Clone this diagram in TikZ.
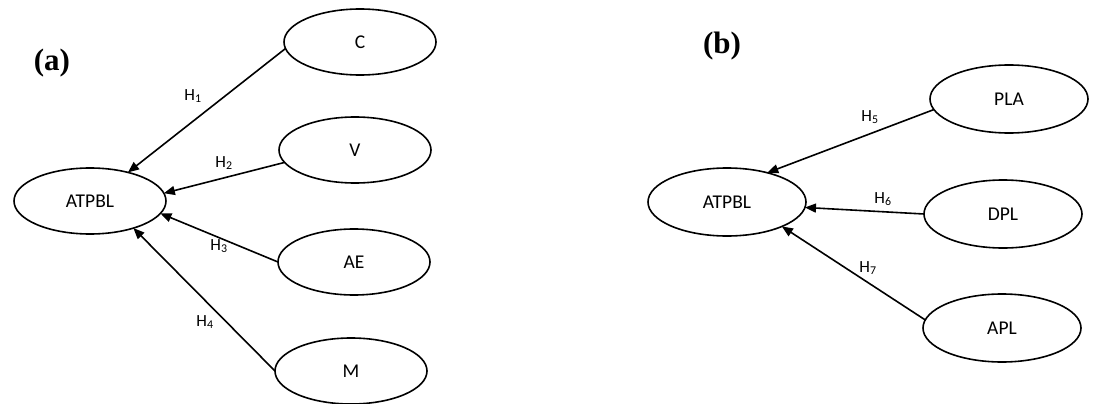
\documentclass[tikz,border=0pt]{standalone}
\usepackage{fontspec}
\setmainfont{Carlito}
\newfontfamily\panelfont{Liberation Serif}
\usetikzlibrary{shapes.geometric,arrows.meta}
\begin{document}
\begin{tikzpicture}[x=1pt,y=-1pt,
  var/.style={ellipse,draw,line width=1.6pt,inner sep=0pt,outer sep=0pt,
    minimum width=152pt,minimum height=66pt,font=\fontsize{19.5}{22}\selectfont},
  varb/.style={var,minimum width=158pt,minimum height=68pt},
  arr/.style={line width=1.6pt,-{Triangle[length=11pt,width=9pt]}},
  hlab/.style={font=\fontsize{17}{19}\selectfont,inner sep=0pt},
  panel/.style={font=\panelfont\bfseries\fontsize{31}{34}\selectfont,inner sep=0pt}]
\useasboundingbox (0,0) rectangle (1093,404);
% panel (a)
\node[panel] (la) at (52,63) {(a)};
\node[var] (A) at (90,201) {ATPBL};
\node[var] (C) at (360,42) {C};
\node[var] (V) at (355,150) {V};
\node[var] (AE) at (354,262) {AE};
\node[var] (M) at (351,371) {M};
\draw[arr] (C.185) -- (A.37);
\draw[arr] (V.190) -- (A.6);
\draw[arr] (AE.west) -- (A.-10);
\draw[arr] (M.west) -- (A.-32);
\node[hlab] (h1) at (193,96) {H\textsubscript{1}};
\node[hlab] (h2) at (224,163) {H\textsubscript{2}};
\node[hlab] (h3) at (219,246) {H\textsubscript{3}};
\node[hlab] (h4) at (205,322) {H\textsubscript{4}};
% panel (b)
\node[panel] (lb) at (722,46) {(b)};
\node[varb] (B) at (727,202) {ATPBL};
\node[varb] (PLA) at (1009,99) {PLA};
\node[varb] (DPL) at (1003,214) {DPL};
\node[varb] (APL) at (1002,328) {APL};
\draw[arr] (PLA.188) -- (B.36);
\draw[arr] (DPL.west) -- (B.-4);
\draw[arr] (APL.174) -- (B.-24);
\node[hlab] (h5) at (870,117) {H\textsubscript{5}};
\node[hlab] (h6) at (883,199) {H\textsubscript{6}};
\node[hlab] (h7) at (868,268) {H\textsubscript{7}};
\end{tikzpicture}
\end{document}
